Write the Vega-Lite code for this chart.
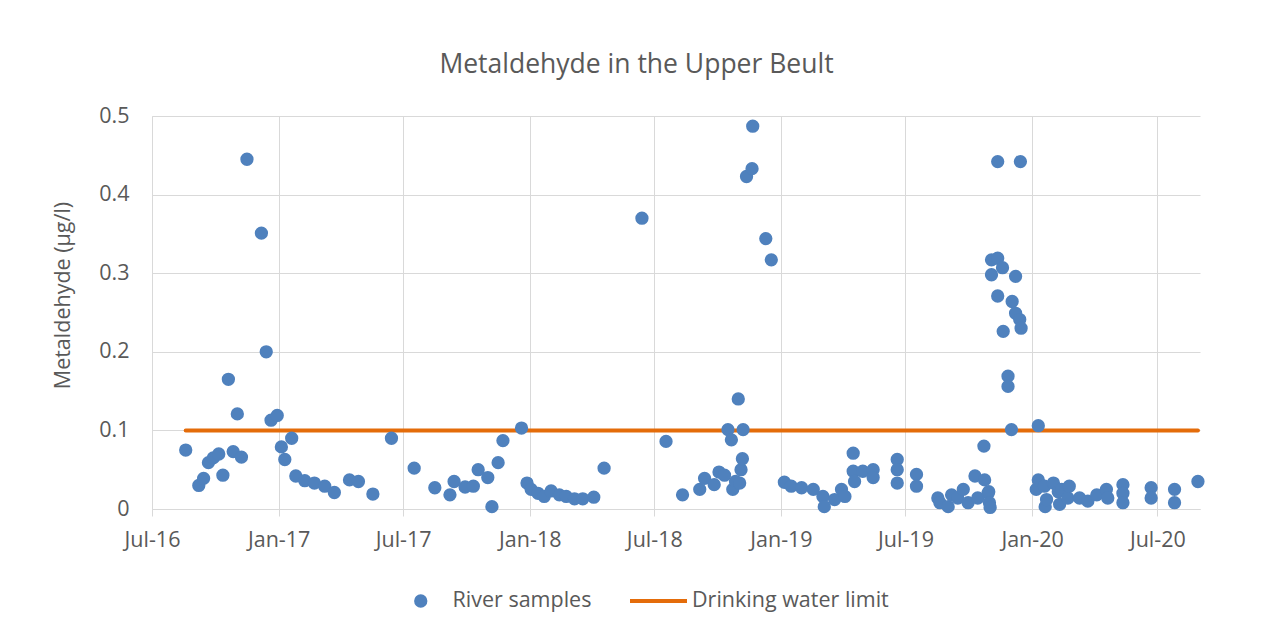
{
  "$schema": "https://vega.github.io/schema/vega-lite/v6.json",
  "autosize": {"type": "none"},
  "width": 1048,
  "height": 393,
  "padding": {"left": 152, "top": 116, "right": 66, "bottom": 126},
  "background": "white",
  "title": {
    "text": "Metaldehyde in the Upper Beult",
    "font": "Open Sans",
    "fontSize": 26.5,
    "fontWeight": "normal",
    "color": "#595959",
    "anchor": "middle",
    "frame": "group",
    "dx": -39.5,
    "offset": 27
  },
  "datasets": {
    "samples": [
      {"date": "2016-08-19", "value": 0.075},
      {"date": "2016-09-07", "value": 0.030},
      {"date": "2016-09-14", "value": 0.039},
      {"date": "2016-09-21", "value": 0.059},
      {"date": "2016-09-28", "value": 0.065},
      {"date": "2016-10-06", "value": 0.070},
      {"date": "2016-10-12", "value": 0.043},
      {"date": "2016-10-20", "value": 0.165},
      {"date": "2016-10-27", "value": 0.073},
      {"date": "2016-11-02", "value": 0.121},
      {"date": "2016-11-08", "value": 0.066},
      {"date": "2016-11-16", "value": 0.445},
      {"date": "2016-12-07", "value": 0.351},
      {"date": "2016-12-14", "value": 0.200},
      {"date": "2016-12-21", "value": 0.113},
      {"date": "2016-12-30", "value": 0.119},
      {"date": "2017-01-05", "value": 0.079},
      {"date": "2017-01-10", "value": 0.063},
      {"date": "2017-01-20", "value": 0.090},
      {"date": "2017-01-26", "value": 0.042},
      {"date": "2017-02-08", "value": 0.036},
      {"date": "2017-02-22", "value": 0.033},
      {"date": "2017-03-09", "value": 0.029},
      {"date": "2017-03-23", "value": 0.021},
      {"date": "2017-04-14", "value": 0.037},
      {"date": "2017-04-27", "value": 0.035},
      {"date": "2017-05-18", "value": 0.019},
      {"date": "2017-06-14", "value": 0.090},
      {"date": "2017-07-17", "value": 0.052},
      {"date": "2017-08-16", "value": 0.027},
      {"date": "2017-09-07", "value": 0.018},
      {"date": "2017-09-13", "value": 0.035},
      {"date": "2017-09-29", "value": 0.028},
      {"date": "2017-10-11", "value": 0.029},
      {"date": "2017-10-18", "value": 0.050},
      {"date": "2017-11-01", "value": 0.040},
      {"date": "2017-11-07", "value": 0.003},
      {"date": "2017-11-16", "value": 0.059},
      {"date": "2017-11-23", "value": 0.087},
      {"date": "2017-12-20", "value": 0.103},
      {"date": "2017-12-28", "value": 0.033},
      {"date": "2018-01-03", "value": 0.025},
      {"date": "2018-01-13", "value": 0.020},
      {"date": "2018-01-22", "value": 0.016},
      {"date": "2018-02-01", "value": 0.023},
      {"date": "2018-02-13", "value": 0.018},
      {"date": "2018-02-23", "value": 0.016},
      {"date": "2018-03-07", "value": 0.013},
      {"date": "2018-03-19", "value": 0.013},
      {"date": "2018-04-04", "value": 0.015},
      {"date": "2018-04-19", "value": 0.052},
      {"date": "2018-06-13", "value": 0.370},
      {"date": "2018-07-18", "value": 0.086},
      {"date": "2018-08-11", "value": 0.018},
      {"date": "2018-09-05", "value": 0.025},
      {"date": "2018-09-12", "value": 0.039},
      {"date": "2018-09-26", "value": 0.031},
      {"date": "2018-10-03", "value": 0.047},
      {"date": "2018-10-11", "value": 0.043},
      {"date": "2018-10-16", "value": 0.101},
      {"date": "2018-10-21", "value": 0.088},
      {"date": "2018-10-23", "value": 0.025},
      {"date": "2018-10-27", "value": 0.035},
      {"date": "2018-10-31", "value": 0.140},
      {"date": "2018-11-02", "value": 0.033},
      {"date": "2018-11-04", "value": 0.050},
      {"date": "2018-11-06", "value": 0.064},
      {"date": "2018-11-07", "value": 0.101},
      {"date": "2018-11-12", "value": 0.423},
      {"date": "2018-11-20", "value": 0.433},
      {"date": "2018-11-21", "value": 0.487},
      {"date": "2018-12-10", "value": 0.344},
      {"date": "2018-12-18", "value": 0.317},
      {"date": "2019-01-06", "value": 0.034},
      {"date": "2019-01-16", "value": 0.029},
      {"date": "2019-01-31", "value": 0.027},
      {"date": "2019-02-17", "value": 0.025},
      {"date": "2019-03-03", "value": 0.016},
      {"date": "2019-03-05", "value": 0.003},
      {"date": "2019-03-20", "value": 0.012},
      {"date": "2019-03-30", "value": 0.025},
      {"date": "2019-04-04", "value": 0.016},
      {"date": "2019-04-16", "value": 0.071},
      {"date": "2019-04-16", "value": 0.048},
      {"date": "2019-04-18", "value": 0.035},
      {"date": "2019-04-30", "value": 0.048},
      {"date": "2019-05-15", "value": 0.050},
      {"date": "2019-05-15", "value": 0.040},
      {"date": "2019-06-19", "value": 0.063},
      {"date": "2019-06-19", "value": 0.050},
      {"date": "2019-06-19", "value": 0.033},
      {"date": "2019-07-17", "value": 0.044},
      {"date": "2019-07-17", "value": 0.029},
      {"date": "2019-08-17", "value": 0.014},
      {"date": "2019-08-20", "value": 0.008},
      {"date": "2019-09-01", "value": 0.003},
      {"date": "2019-09-06", "value": 0.018},
      {"date": "2019-09-15", "value": 0.014},
      {"date": "2019-09-23", "value": 0.025},
      {"date": "2019-09-30", "value": 0.008},
      {"date": "2019-10-10", "value": 0.042},
      {"date": "2019-10-14", "value": 0.014},
      {"date": "2019-10-23", "value": 0.080},
      {"date": "2019-10-24", "value": 0.037},
      {"date": "2019-10-29", "value": 0.020},
      {"date": "2019-10-30", "value": 0.022},
      {"date": "2019-10-31", "value": 0.008},
      {"date": "2019-11-01", "value": 0.002},
      {"date": "2019-11-03", "value": 0.317},
      {"date": "2019-11-03", "value": 0.298},
      {"date": "2019-11-12", "value": 0.319},
      {"date": "2019-11-12", "value": 0.442},
      {"date": "2019-11-12", "value": 0.271},
      {"date": "2019-11-19", "value": 0.307},
      {"date": "2019-11-20", "value": 0.226},
      {"date": "2019-11-27", "value": 0.169},
      {"date": "2019-11-27", "value": 0.156},
      {"date": "2019-12-02", "value": 0.101},
      {"date": "2019-12-03", "value": 0.264},
      {"date": "2019-12-08", "value": 0.296},
      {"date": "2019-12-08", "value": 0.249},
      {"date": "2019-12-14", "value": 0.241},
      {"date": "2019-12-15", "value": 0.442},
      {"date": "2019-12-16", "value": 0.230},
      {"date": "2020-01-07", "value": 0.025},
      {"date": "2020-01-10", "value": 0.106},
      {"date": "2020-01-10", "value": 0.037},
      {"date": "2020-01-19", "value": 0.029},
      {"date": "2020-01-20", "value": 0.003},
      {"date": "2020-01-22", "value": 0.012},
      {"date": "2020-02-01", "value": 0.033},
      {"date": "2020-02-08", "value": 0.022},
      {"date": "2020-02-10", "value": 0.006},
      {"date": "2020-02-13", "value": 0.025},
      {"date": "2020-02-22", "value": 0.014},
      {"date": "2020-02-24", "value": 0.029},
      {"date": "2020-03-10", "value": 0.014},
      {"date": "2020-03-22", "value": 0.010},
      {"date": "2020-04-04", "value": 0.018},
      {"date": "2020-04-18", "value": 0.025},
      {"date": "2020-04-20", "value": 0.014},
      {"date": "2020-05-12", "value": 0.031},
      {"date": "2020-05-12", "value": 0.020},
      {"date": "2020-05-12", "value": 0.008},
      {"date": "2020-06-22", "value": 0.027},
      {"date": "2020-06-22", "value": 0.014},
      {"date": "2020-07-26", "value": 0.025},
      {"date": "2020-07-26", "value": 0.008},
      {"date": "2020-08-29", "value": 0.035}
    ],
    "limit": [
      {"date": "2016-08-19", "value": 0.1},
      {"date": "2020-08-29", "value": 0.1}
    ]
  },
  "encoding": {
    "x": {
      "field": "date",
      "type": "temporal",
      "scale": {
        "domain": [{"year": 2016, "month": 7, "date": 1}, {"year": 2020, "month": 9, "date": 1}],
        "nice": false
      },
      "axis": {
        "title": null,
        "format": "%b-%y",
        "tickCount": {"interval": "month", "step": 6},
        "labelFlush": false,
        "labelOverlap": false,
        "ticks": true,
        "tickSize": 7,
        "labelPadding": 13,
        "grid": true
      }
    },
    "y": {
      "field": "value",
      "type": "quantitative",
      "scale": {"domain": [0, 0.5], "nice": false},
      "axis": {
        "title": "Metaldehyde (µg/l)",
        "values": [0, 0.1, 0.2, 0.3, 0.4, 0.5],
        "format": ".1~f",
        "ticks": false,
        "labelPadding": 23,
        "grid": true,
        "titleX": -83,
        "titleY": 179,
        "titleAngle": 270,
        "titleBaseline": "alphabetic",
        "titleAlign": "center",
        "titleFontSize": 21.5
      }
    }
  },
  "layer": [
    {
      "data": {"name": "limit"},
      "mark": {"type": "line", "strokeWidth": 4, "strokeCap": "round"},
      "encoding": {
        "stroke": {
          "datum": "Drinking water limit",
          "type": "nominal",
          "scale": {"domain": ["Drinking water limit"], "range": ["#e46c0a"]},
          "legend": {
            "title": null,
            "orient": "none",
            "legendX": 476,
            "legendY": 473,
            "clipHeight": 24,
            "padding": 0,
            "symbolType": "stroke",
            "symbolSize": 3249,
            "symbolStrokeWidth": 4,
            "symbolStrokeColor": "#e46c0a",
            "labelOffset": 3,
            "labelLimit": 400,
            "labelFont": "Open Sans",
            "labelFontSize": 21.5,
            "labelColor": "#595959"
          }
        }
      }
    },
    {
      "data": {"name": "samples"},
      "mark": {"type": "point", "filled": true, "opacity": 1, "size": 177, "strokeWidth": 0},
      "encoding": {
        "color": {
          "datum": "River samples",
          "type": "nominal",
          "scale": {"domain": ["River samples"], "range": ["#4f81bd"]},
          "legend": {
            "title": null,
            "orient": "none",
            "legendX": 258,
            "legendY": 473,
            "clipHeight": 24,
            "padding": 0,
            "symbolType": "circle",
            "symbolSize": 177,
            "symbolStrokeWidth": 0,
            "symbolOpacity": 1,
            "labelOffset": 21,
            "labelLimit": 400,
            "labelFont": "Open Sans",
            "labelFontSize": 21.5,
            "labelColor": "#595959"
          }
        }
      }
    }
  ],
  "config": {
    "view": {"stroke": null, "fill": "white"},
    "axis": {
      "gridColor": "#d9d9d9",
      "gridWidth": 1,
      "domainColor": "#d9d9d9",
      "tickColor": "#d9d9d9",
      "labelColor": "#595959",
      "labelFont": "Open Sans",
      "labelFontSize": 21.5,
      "titleFont": "Open Sans",
      "titleColor": "#595959",
      "titleFontWeight": "normal"
    }
  }
}
